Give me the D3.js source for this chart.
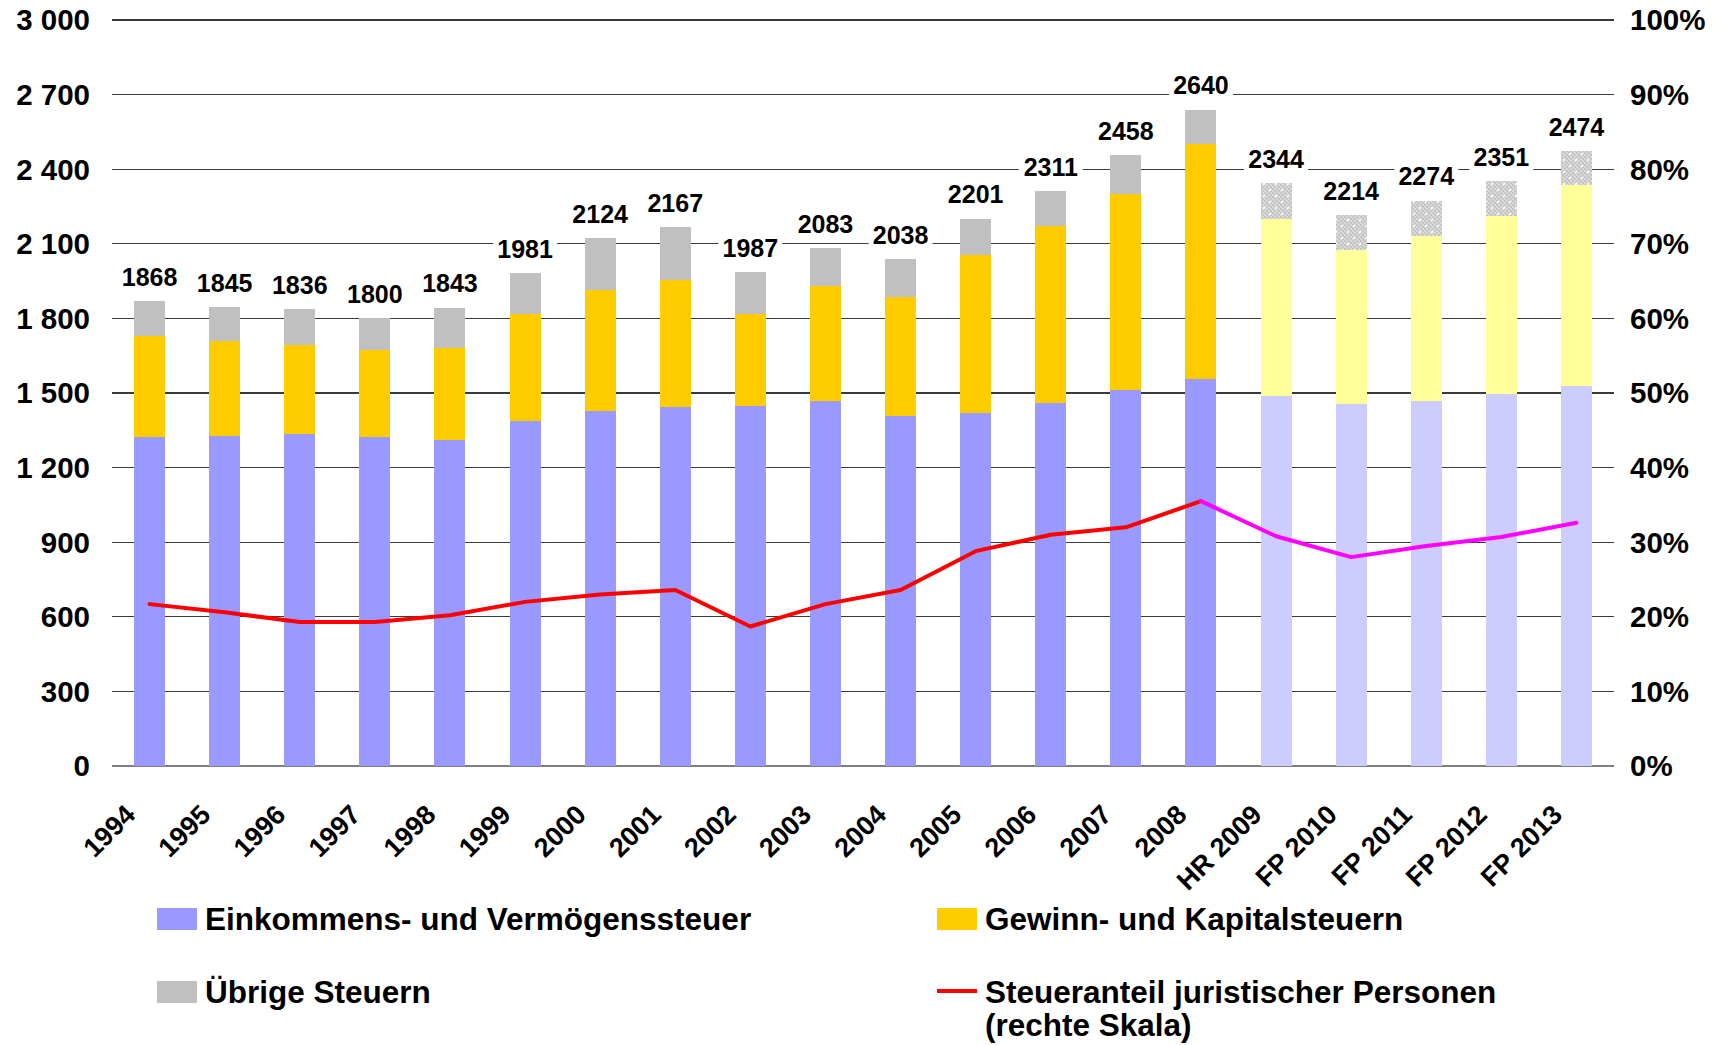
<!DOCTYPE html>
<html><head><meta charset="utf-8">
<script src="https://d3js.org/d3.v7.min.js"></script>
<style>
html,body{margin:0;padding:0;background:#fff;}
svg{display:block;font-family:"Liberation Sans",Arial,sans-serif;font-weight:bold;}
</style></head>
<body><svg id="c" width="1724" height="1045"></svg>
<script>
const categories = ["1994","1995","1996","1997","1998","1999","2000","2001","2002","2003","2004","2005","2006","2007","2008","HR 2009","FP 2010","FP 2011","FP 2012","FP 2013"];
const einkommen = [1323,1327,1336,1323,1310,1389,1429,1442,1447,1469,1407,1420,1460,1513,1558,1487,1456,1469,1496,1527];
const gewinn    = [407,381,359,350,371,430,487,514,372,460,478,633,713,788,942,712,619,664,716,809];
const uebrige   = [138,137,141,127,162,162,208,211,168,154,153,148,138,157,140,145,139,141,139,138];
const totals    = [1868,1845,1836,1800,1843,1981,2124,2167,1987,2083,2038,2201,2311,2458,2640,2344,2214,2274,2351,2474];
const anteil    = [21.7,20.6,19.3,19.3,20.2,22.0,23.0,23.6,18.7,21.7,23.6,28.8,31.0,32.0,35.5,30.8,28.0,29.5,30.7,32.6];
const forecast  = [false,false,false,false,false,false,false,false,false,false,false,false,false,false,false,true,true,true,true,true];
const leftTicks = [0,300,600,900,1200,1500,1800,2100,2400,2700,3000];
const rightTicks = [0,10,20,30,40,50,60,70,80,90,100];
const seriesNames = ["Einkommens- und Vermögenssteuer","Gewinn- und Kapitalsteuern","Übrige Steuern","Steueranteil juristischer Personen","(rechte Skala)"];

const svg = d3.select("#c");
const L = 112, R = 1614, T = 20, B = 766;
const x = d3.scaleBand().domain(categories).range([L, R]).paddingInner(0.587).paddingOuter(0.2935);
const y = d3.scaleLinear().domain([0, 3000]).range([B, T]);
const y2 = d3.scaleLinear().domain([0, 100]).range([B, T]);

// pattern for forecast "Übrige"
const defs = svg.append("defs");
const pat = defs.append("pattern").attr("id","dots").attr("patternUnits","userSpaceOnUse")
  .attr("width",12).attr("height",12);
pat.append("rect").attr("width",12).attr("height",12).attr("fill","#d9d9d9");
for (let i=0;i<12;i+=2) for (let j=0;j<12;j+=2) {
  if (((i+j)/2)%2===0) pat.append("rect").attr("x",i).attr("y",j).attr("width",2).attr("height",2).attr("fill","#c4c4c4");
}
pat.append("rect").attr("x",3).attr("y",3).attr("width",2).attr("height",2).attr("fill","#ffffff");
pat.append("rect").attr("x",9).attr("y",9).attr("width",2).attr("height",2).attr("fill","#f4f4f4");

// gridlines
svg.append("g").selectAll("line").data(leftTicks).join("line")
  .attr("x1", L).attr("x2", R).attr("y1", d => y(d)).attr("y2", d => y(d))
  .attr("stroke", d => d===0 ? "#808080" : "#3a3a3a").attr("stroke-width", d => d===0?2:1.2)
  .attr("shape-rendering","crispEdges");

// left axis labels
const fmt = d => d3.format(",")(d).replace(",", " ");
svg.append("g").selectAll("text").data(leftTicks).join("text")
  .attr("x", 90).attr("y", d => y(d)).attr("dy","0.35em").attr("text-anchor","end")
  .attr("font-size", 29.5).text(fmt);
// right axis labels
svg.append("g").selectAll("text").data(rightTicks).join("text")
  .attr("x", 1630).attr("y", d => y2(d)).attr("dy","0.35em").attr("text-anchor","start")
  .attr("font-size", 29.5).text(d => d + "%");

// stacked bars
const stackData = categories.map((c,i)=>({cat:c, e:einkommen[i], g:gewinn[i], u:uebrige[i], f:forecast[i]}));
const stack = d3.stack().keys(["e","g","u"])(stackData);
const colors = {e:["#9999ff","#ccccff"], g:["#ffcc00","#ffff99"], u:["#c0c0c0","url(#dots)"]};
svg.append("g").selectAll("g").data(stack).join("g")
  .selectAll("rect").data(s => s.map(d => ({d, key:s.key}))).join("rect")
  .attr("x", o => x(o.d.data.cat)).attr("width", x.bandwidth())
  .attr("y", o => y(o.d[1])).attr("height", o => y(o.d[0]) - y(o.d[1]))
  .attr("fill", o => colors[o.key][o.d.data.f ? 1 : 0])
  .attr("shape-rendering","crispEdges");

// total labels with white background
const lab = svg.append("g").selectAll("g").data(categories).join("g")
  .attr("transform", (c,i) => `translate(${x(c)+x.bandwidth()/2},${y(totals[i]) - 24})`);
lab.append("rect").attr("x",-32).attr("y",-14).attr("width",64).attr("height",28).attr("fill","#fff");
lab.append("text").attr("text-anchor","middle").attr("dy","0.35em").attr("font-size",25)
  .text((c,i)=>totals[i]);

// line
const pts = anteil.map((v,i)=>({v,i}));
const lineG = d3.line().x(p=>x(categories[p.i])+x.bandwidth()/2).y(p=>y2(p.v));
svg.append("path").datum(pts.slice(0,15)).attr("d", lineG).attr("fill","none")
  .attr("stroke","#ff0000").attr("stroke-width",4).attr("stroke-linejoin","round").attr("stroke-linecap","round");
svg.append("path").datum(pts.slice(14)).attr("d", lineG).attr("fill","none")
  .attr("stroke","#ff00ff").attr("stroke-width",4).attr("stroke-linejoin","round").attr("stroke-linecap","round");

// x labels
svg.append("g").selectAll("text").data(categories).join("text")
  .attr("transform", c => `translate(${x(c)+x.bandwidth()/2 - 26},${B+37}) rotate(-45)`)
  .attr("text-anchor","end").attr("dy","0.7em").attr("font-size",27).text(c=>c);

// legend
const leg = svg.append("g").attr("font-size",31.5);
function sw(xp, yp, fill){ leg.append("rect").attr("x",xp).attr("y",yp-11).attr("width",40).attr("height",22).attr("fill",fill); }
sw(157, 919, "#9999ff");
leg.append("text").attr("x",205).attr("y",919).attr("dy","0.35em").text(seriesNames[0]);
sw(937, 919, "#ffcc00");
leg.append("text").attr("x",985).attr("y",919).attr("dy","0.35em").text(seriesNames[1]);
sw(157, 992, "#c0c0c0");
leg.append("text").attr("x",205).attr("y",992).attr("dy","0.35em").text(seriesNames[2]);
leg.append("line").attr("x1",937).attr("x2",977).attr("y1",991).attr("y2",991).attr("stroke","#ff0000").attr("stroke-width",4);
leg.append("text").attr("x",985).attr("y",992).attr("dy","0.35em").text(seriesNames[3]);
leg.append("text").attr("x",985).attr("y",1025).attr("dy","0.35em").text(seriesNames[4]);
</script></body></html>
